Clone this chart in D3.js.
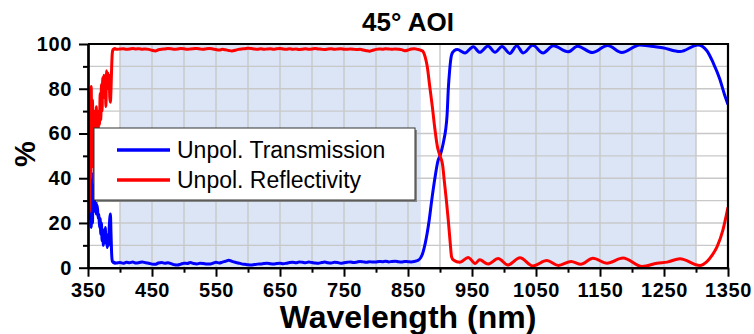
<!DOCTYPE html>
<html>
<head>
<meta charset="utf-8">
<script src="https://cdn.jsdelivr.net/npm/d3@7"></script>
<style>
  body { margin: 0; background: #fff; }
  svg { display: block; font-family: "Liberation Sans", Arial, sans-serif; }
</style>
</head>
<body>
<svg id="canvas" width="754" height="334"></svg>
<script>
'use strict';

/* chart texts */
const title = '45° AOI';
const xTitle = 'Wavelength (nm)';
const yTitle = '%';
const seriesNames = ['Unpol. Transmission', 'Unpol. Reflectivity'];
const seriesColors = ['#0000ff', '#ff0000'];

/* axis ticks */
const xTicks = [350, 450, 550, 650, 750, 850, 950, 1050, 1150, 1250, 1350];
const xMinor = [400, 500, 600, 700, 800, 900, 1000, 1100, 1200, 1300];
const yTicks = [0, 20, 40, 60, 80, 100];
const yMinor = [10, 30, 50, 70, 90];

/* shaded design bands (nm) */
const bands = [[400, 870], [930, 1300]];

/* unpolarized transmission, [nm, %] */
const transmission = [
  [350,70],[351,40],[352,62],[353,22],[354,45],[355,18],[356,30],[357,20],[358,42],[359,25],
  [360,30],[361,27],[362,32],[363,24],[364,28],[365,26],[366,22],[367,24],[368,18],[369,22],
  [370,15],[371,20],[372,12],[373,17],[374,10],[375,14],[376,12],[377,18],[378,11],[379,15],
  [380,9],[381,13],[382,10],[383,17],[384,22],[385,24],[386,15],[387,6],[388,3],[389,2.5],
  [390,2.2],[391,2.4],[392,2.0],
  [395,2.1],[400,2.3],[405,2.0],[410,2.4],[415,2.2],[420,2.5],[425,2.1],[430,2.3],[435,2.6],
  [440,2.2],[445,2.0],[450,1.6],[455,1.5],[460,2.1],[465,2.3],[470,2.0],[475,2.2],[480,1.8],
  [485,1.3],[490,1.2],[495,1.6],[500,2.0],[505,1.9],[510,2.3],[515,1.9],[520,1.7],[525,2.0],
  [530,1.9],[535,1.7],[540,1.6],[545,2.0],[550,2.4],[555,2.1],[560,2.5],[565,2.9],[570,3.3],
  [575,2.8],[580,2.4],[585,2.1],[590,1.7],[595,1.5],[600,1.3],[605,1.2],[610,1.4],[615,1.6],
  [620,1.7],[625,1.9],[630,2.0],[635,1.8],[640,1.7],[645,1.9],[650,2.0],[655,1.8],[660,2.0],
  [665,2.3],[670,2.4],[675,2.2],[680,2.6],[685,2.4],[690,2.2],[695,2.5],[700,2.3],[705,2.1],
  [710,2.0],[715,2.3],[720,2.5],[725,2.2],[730,2.1],[735,2.4],[740,2.3],[745,2.0],[750,2.2],
  [755,2.4],[760,2.6],[765,2.3],[770,2.5],[775,2.8],[780,2.6],[785,2.4],[790,2.7],[795,2.5],
  [800,2.6],[805,2.8],[810,2.7],[815,2.9],[820,2.6],[825,2.8],[830,2.9],[835,2.7],[840,2.6],
  [845,2.8],[850,2.7],[855,2.6],[860,2.8],[865,3.2],
  [870,4.5],[873,6.5],[877,11],[880,15.5],[883,21],[887,30],[892,40],[897,48],[900,50],
  [903,53],[906,57],[909,62],[911,68],[913,80],[915,88],[918,95],[922,97],[927,97.5],
  [939,96],[952,98.8],[962,96.3],[975,99.1],[986,96.3],[997,98.9],[1009,95.8],[1020,99.2],
  [1030,96],[1045,99.4],[1061,96],[1077,99.2],[1100,96.5],[1115,99],[1138,96.2],
  [1162,99.3],[1184,96.2],[1212,99.6],[1230,99],[1248,98.3],[1275,96.6],[1303,99.6],
  [1317,97],[1327,91.5],[1337,84.5],[1345,77],[1350,73]
];

/* unpolarized reflectivity, [nm, %] */
const reflectivity = [
  [350,30],[351,62],[352,25],[353,78],[354,40],[355,81],[356,55],[357,75],[358,45],[359,70],
  [360,38],[361,66],[362,60],[363,72],[364,48],[365,68],[366,62],[367,70],[368,64],[369,78],
  [370,66],[371,82],[372,70],[373,85],[374,76],[375,86],[376,80],[377,84],[378,72],[379,88],
  [380,82],[381,87],[382,80],[383,86],[384,76],[385,74],[386,80],[387,90],[388,96],[389,97.5],
  [390,97.8],[391,97.6],[392,98],
  [395,97.6],[400,97.8],[405,97.9],[410,97.7],[415,97.8],[420,98.0],[425,97.8],[430,97.9],
  [435,97.7],[440,97.8],[445,97.6],[450,97.2],[455,96.9],[460,97.4],[465,97.7],[470,97.8],
  [475,98.0],[480,97.9],[485,97.7],[490,97.8],[495,98.0],[500,97.9],[505,97.6],[510,97.8],
  [515,97.9],[520,98.0],[525,97.8],[530,97.6],[535,97.9],[540,98.0],[545,97.8],[550,97.5],
  [555,97.3],[560,97.6],[565,97.4],[570,97.1],[575,96.9],[580,97.2],[585,97.6],[590,97.8],
  [595,97.9],[600,98.1],[605,98.0],[610,97.8],[615,97.7],[620,97.9],[625,97.6],[630,97.8],
  [635,97.9],[640,97.7],[645,97.9],[650,98.0],[655,97.8],[660,97.7],[665,97.9],[670,97.6],
  [675,97.8],[680,97.5],[685,97.7],[690,97.9],[695,97.7],[700,97.8],[705,98.0],[710,97.8],
  [715,97.7],[720,97.5],[725,97.8],[730,97.9],[735,97.6],[740,97.8],[745,97.9],[750,97.7],
  [755,97.6],[760,97.8],[765,97.7],[770,97.5],[775,97.6],[780,97.3],[785,97.0],[790,96.8],
  [795,97.2],[800,97.6],[805,97.8],[810,97.7],[815,97.9],[820,97.8],[825,97.6],[830,97.8],
  [835,97.7],[840,97.5],[845,97.0],[850,97.3],[855,97.8],[860,97.9],[865,97.6],
  [870,97.2],[873,96.8],[877,94],[880,90],[884,81],[888,72],[892,62],[896,54],[900,50],
  [904,46],[907,38],[910,30],[913,21],[916,11],[918,5],[921,3.4],
  [931,2.4],[944,4.6],[955,1.9],[962,3.5],[975,1.6],[991,4.1],[1006,1.2],[1025,4.4],
  [1045,0.8],[1067,3.2],[1085,1.0],[1105,2.8],[1120,1.5],[1139,4.2],[1161,2.0],[1186,4.3],
  [1216,0.5],[1239,2.0],[1255,2.5],[1275,4.0],[1306,1.0],[1317,2.7],[1325,5.5],[1333,9.4],
  [1342,16.8],[1350,27]
];

/* plot area, in pixels */
const plot = {left: 88, right: 728, top: 44, bottom: 267.7};

let svg = d3.select('svg#canvas');

let x = d3.scaleLinear()
  .domain([350, 1350])
  .range([plot.left, plot.right])
;
let y = d3.scaleLinear()
  .domain([0, 100])
  .range([plot.bottom, plot.top])
;

/* shaded bands behind the grid */
svg.append('g').selectAll('rect')
  .data(bands)
  .enter().append('rect')
    .attr('x', d => x(d[0]))
    .attr('y', y(100))
    .attr('width', d => x(d[1]) - x(d[0]))
    .attr('height', y(0) - y(100))
    .attr('fill', '#dbe5f6')
;

/* grid: every 50 nm and every 10 % */
let grid = svg.append('g')
  .attr('stroke', '#c8c8c8')
  .attr('stroke-width', 1.4)
;
grid.selectAll('line.v')
  .data(xTicks.concat(xMinor))
  .enter().append('line')
    .attr('class', 'v')
    .attr('x1', d => x(d)).attr('x2', d => x(d))
    .attr('y1', y(0)).attr('y2', y(100))
;
grid.selectAll('line.h')
  .data(yTicks.concat(yMinor))
  .enter().append('line')
    .attr('class', 'h')
    .attr('x1', x(350)).attr('x2', x(1350))
    .attr('y1', d => y(d)).attr('y2', d => y(d))
;

/* data lines, clipped to the plot area */
svg.append('clipPath').attr('id', 'clip')
  .append('rect')
    .attr('x', plot.left).attr('y', plot.top - 2)
    .attr('width', plot.right - plot.left)
    .attr('height', plot.bottom - plot.top + 4)
;
let line = d3.line()
  .x(d => x(d[0]))
  .y(d => y(d[1]))
  .curve(d3.curveMonotoneX)
;
svg.append('g').attr('clip-path', 'url(#clip)')
  .selectAll('path')
  .data([transmission, reflectivity])
  .enter().append('path')
    .attr('d', line)
    .attr('fill', 'none')
    .attr('stroke', (d, i) => seriesColors[i])
    .attr('stroke-width', 3)
    .attr('stroke-linejoin', 'round')
;

/* axes: major ticks carry labels, minor ticks are short */
function styleAxis(g){
  g.selectAll('path.domain').attr('stroke', '#000').attr('stroke-width', 2.2);
  g.selectAll('.tick line').attr('stroke', '#000').attr('stroke-width', 2);
  g.selectAll('.tick text')
    .attr('fill', '#000')
    .style('font-size', '20px')
    .style('font-weight', 'bold')
    .style('letter-spacing', '0.6px')
  ;
}
svg.append('g')
  .attr('transform', 'translate(0,' + y(0) + ')')
  .call(d3.axisBottom(x).tickValues(xMinor).tickSize(5).tickSizeOuter(0).tickFormat(''))
  .call(styleAxis)
;
svg.append('g')
  .attr('transform', 'translate(0,' + y(0) + ')')
  .call(d3.axisBottom(x).tickValues(xTicks).tickSize(9).tickSizeOuter(0).tickPadding(6).tickFormat(d3.format('d')))
  .call(styleAxis)
;
svg.append('g')
  .attr('transform', 'translate(' + x(350) + ',0)')
  .call(d3.axisLeft(y).tickValues(yMinor).tickSize(5).tickSizeOuter(0).tickFormat(''))
  .call(styleAxis)
;
svg.append('g')
  .attr('transform', 'translate(' + x(350) + ',0)')
  .call(d3.axisLeft(y).tickValues(yTicks).tickSize(9).tickSizeOuter(0).tickPadding(7))
  .call(styleAxis)
;

/* top and right frame */
svg.append('path')
  .attr('d', 'M' + x(350) + ',' + y(100) + 'H' + x(1350) + 'V' + y(0))
  .attr('fill', 'none')
  .attr('stroke', '#000')
  .attr('stroke-width', 2.2)
;

/* titles */
svg.append('text')
  .attr('x', 408).attr('y', 31)
  .attr('text-anchor', 'middle')
  .style('font-size', '26px').style('font-weight', 'bold')
  .text(title)
;
svg.append('text')
  .attr('x', 408).attr('y', 328)
  .attr('text-anchor', 'middle')
  .style('font-size', '32px').style('font-weight', 'bold')
  .text(xTitle)
;
svg.append('text')
  .attr('transform', 'translate(35,154) rotate(-90)')
  .attr('text-anchor', 'middle')
  .style('font-size', '29px').style('font-weight', 'bold')
  .text(yTitle)
;

/* legend with a small drop shadow */
let legend = svg.append('g').attr('transform', 'translate(94,128)');
legend.append('rect')
  .attr('x', 2).attr('y', 2).attr('width', 321).attr('height', 72)
  .attr('fill', '#888')
;
legend.append('rect')
  .attr('width', 321).attr('height', 72)
  .attr('fill', '#fff').attr('stroke', '#333').attr('stroke-width', 1)
;
let item = legend.selectAll('g.item')
  .data(seriesNames)
  .enter().append('g')
    .attr('class', 'item')
    .attr('transform', (d, i) => 'translate(0,' + (22 + i * 30) + ')')
;
item.append('line')
  .attr('x1', 23).attr('x2', 76)
  .attr('stroke', (d, i) => seriesColors[i])
  .attr('stroke-width', 3.5)
;
item.append('text')
  .attr('x', 83).attr('y', 8)
  .style('font-size', '23px')
  .text(d => d)
;
</script>
</body>
</html>
